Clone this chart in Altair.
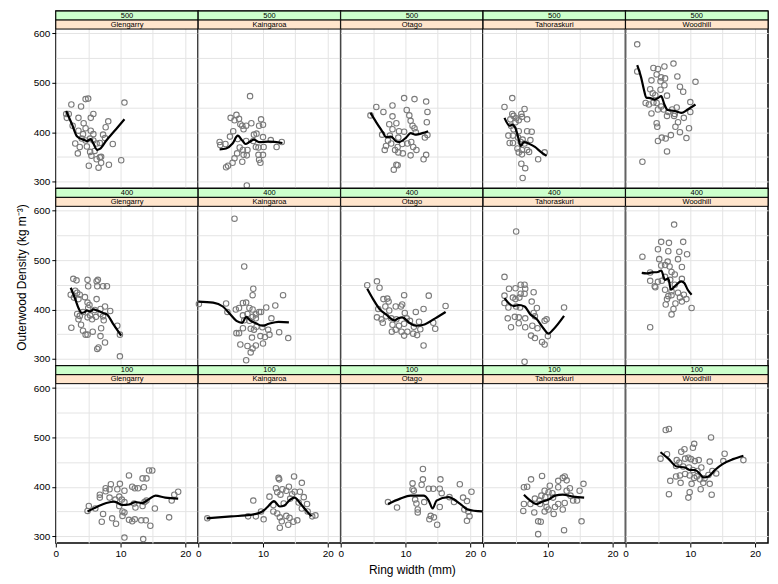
import altair as alt
import pandas as pd

STANDS = ["500", "400", "100"]
SITES = ["Glengarry", "Kaingaroa", "Otago", "Tahoraskuri", "Woodhill"]
X_GRID = [0, 5, 10, 15, 20]
Y_GRID = [300, 350, 400, 450, 500, 550, 600]
X_DOMAIN = [0, 22]
Y_DOMAIN = [286, 609]

# scatter points (ring width mm, density kg/m3) per panel
PTS_500_GLENGARRY = [(2.4,456),(1.6,437),(2.0,437),(1.7,429),(3.5,429),(2.6,413),(3.9,452),(4.3,418),(4.6,467),(5.0,468),(5.4,429),(5.8,437),(8.1,422),(10.6,460),(3.0,377),(3.4,357),(3.7,370),(4.2,396),(4.6,383),(4.8,371),(5.3,360),(5.4,403),(5.8,396),(6.0,362),(5.5,352),(5.1,332),(6.3,345),(6.6,328),(6.8,349),(7.0,338),(7.3,395),(7.6,388),(7.7,410),(8.2,334),(8.8,376),(10.1,343),(6.8,378),(6.3,377),(4.0,387),(5.3,387),(5.8,383),(7.0,350),(3.5,403),(4.6,408)]
PTS_500_KAINGAROA = [(8.0,473),(5.0,429),(5.6,424),(5.9,435),(6.3,427),(6.5,416),(6.8,413),(7.4,413),(7.0,406),(8.2,418),(9.4,413),(9.7,426),(10.0,415),(8.6,395),(9.0,397),(10.0,390),(5.4,402),(4.9,391),(3.3,380),(3.4,374),(4.2,376),(6.1,386),(7.4,382),(8.5,382),(11.2,384),(12.9,380),(12.1,370),(6.4,369),(6.9,364),(7.6,364),(8.9,370),(9.3,369),(10.1,370),(6.0,357),(7.0,354),(7.5,353),(9.3,354),(10.0,354),(5.6,347),(6.8,340),(5.3,338),(4.6,332),(4.3,329),(9.4,344),(9.6,338),(7.5,292)]
PTS_500_OTAGO = [(9.8,469),(11.4,467),(13.2,462),(5.5,451),(8.0,454),(6.6,441),(4.6,434),(10.2,445),(10.6,434),(13.4,441),(8.0,432),(10.8,423),(13.3,420),(8.6,418),(7.5,416),(11.1,413),(11.4,408),(9.0,402),(9.8,401),(8.0,406),(11.6,400),(6.4,395),(13.4,394),(13.0,389),(7.6,393),(8.9,389),(7.3,383),(7.8,377),(7.0,372),(6.8,364),(8.4,364),(8.8,370),(9.5,376),(10.3,377),(10.9,380),(11.2,370),(11.7,364),(8.9,359),(9.6,357),(10.8,353),(13.2,354),(12.8,345),(8.6,334),(8.8,333),(8.2,324)]
PTS_500_TAHORASKURI = [(4.5,469),(3.3,451),(6.4,447),(4.5,437),(4.7,433),(5.9,437),(6.0,431),(5.1,428),(5.5,424),(6.8,426),(4.2,426),(5.0,420),(4.3,413),(4.7,406),(5.5,402),(6.8,402),(7.5,401),(3.9,393),(4.6,393),(5.4,389),(6.1,385),(7.3,384),(4.1,378),(4.6,378),(5.8,380),(6.4,377),(5.3,367),(6.0,364),(6.8,364),(7.1,360),(5.5,359),(6.0,355),(8.5,345),(9.5,359),(5.9,336),(6.5,327),(6.1,307)]
PTS_500_WOODHILL = [(1.8,578),(1.8,523),(4.3,530),(5.0,528),(6.0,533),(7.4,539),(4.8,517),(5.5,511),(6.1,509),(8.0,513),(4.0,505),(5.4,503),(10.8,502),(6.0,495),(3.8,487),(5.4,486),(8.4,492),(8.9,482),(4.2,479),(4.6,475),(6.4,474),(3.1,459),(3.6,456),(4.3,460),(4.8,459),(5.5,452),(10.0,461),(7.9,450),(5.0,446),(5.9,446),(7.2,446),(4.0,438),(6.6,441),(7.6,437),(6.4,433),(7.5,433),(9.0,429),(10.0,441),(8.1,420),(4.8,418),(4.9,411),(7.7,411),(8.4,400),(9.8,408),(7.0,394),(9.4,388),(5.6,389),(6.2,387),(5.0,382),(6.4,361),(2.6,340)]
PTS_400_GLENGARRY = [(2.7,462),(3.2,459),(2.4,363),(2.3,430),(3.0,438),(3.3,434),(3.7,430),(2.8,424),(3.5,421),(4.5,425),(4.9,460),(5.0,447),(6.3,457),(6.5,460),(6.4,447),(7.3,447),(7.9,447),(6.3,421),(4.9,414),(5.2,409),(7.6,406),(8.4,397),(6.9,401),(6.0,399),(5.0,403),(3.3,391),(3.7,387),(3.5,380),(4.2,395),(4.9,384),(5.3,388),(5.6,380),(6.2,385),(7.3,386),(7.4,378),(6.9,391),(3.9,369),(4.2,357),(4.6,349),(4.9,349),(5.7,355),(7.0,362),(6.9,346),(7.6,333),(6.6,323),(6.4,320),(9.5,367),(9.9,349),(9.9,305)]
PTS_400_KAINGAROA = [(5.6,584),(7.1,487),(0.1,411),(4.3,412),(4.5,395),(5.8,400),(6.3,403),(6.9,413),(7.4,414),(8.5,442),(8.4,429),(13.1,429),(11.9,408),(10.5,404),(7.9,403),(8.4,400),(9.4,395),(9.7,395),(8.9,390),(7.6,391),(6.9,388),(8.4,385),(8.9,382),(7.9,377),(7.1,378),(6.9,362),(8.1,361),(8.6,359),(9.0,365),(9.9,364),(10.8,359),(11.0,349),(10.3,344),(9.6,346),(8.3,343),(12.5,354),(13.9,342),(5.9,352),(6.3,352),(6.5,329),(7.6,326),(8.9,327),(10.0,331),(8.4,321),(8.1,313),(7.4,297),(11.3,382)]
PTS_400_OTAGO = [(4.1,449),(5.6,457),(6.0,444),(6.6,421),(7.2,422),(7.4,416),(9.8,429),(13.6,428),(5.8,401),(6.9,406),(7.5,398),(8.5,406),(9.3,406),(9.5,410),(9.9,393),(11.6,395),(12.8,401),(16.2,407),(5.6,384),(6.3,380),(7.0,386),(7.8,382),(8.6,380),(10.2,382),(10.7,377),(12.1,375),(6.5,373),(8.0,369),(9.0,367),(9.8,371),(11.3,365),(7.9,355),(8.5,359),(9.4,355),(10.3,355),(11.2,351),(11.8,348),(9.8,347),(12.3,360),(14.3,373),(14.6,361),(12.8,327)]
PTS_400_TAHORASKURI = [(5.1,558),(3.3,466),(4.0,442),(5.0,443),(5.8,450),(6.4,450),(6.5,442),(6.4,432),(5.8,432),(7.8,435),(3.3,428),(4.6,424),(5.0,421),(5.6,424),(7.5,416),(3.3,413),(3.9,404),(5.1,406),(5.7,404),(8.3,403),(7.8,393),(8.0,386),(3.8,382),(4.9,385),(5.5,384),(6.5,382),(4.3,364),(5.5,372),(6.5,364),(7.6,367),(8.4,362),(9.5,377),(9.8,380),(7.4,347),(8.0,342),(9.1,334),(9.5,329),(10.0,346),(12.5,404),(6.4,294)]
PTS_400_WOODHILL = [(7.5,572),(5.5,537),(6.7,535),(8.9,537),(5.0,522),(6.6,518),(8.3,517),(9.5,512),(2.6,507),(5.2,502),(6.5,497),(8.1,502),(5.5,489),(6.1,490),(6.8,487),(8.7,486),(3.8,475),(7.1,476),(7.6,471),(6.1,466),(5.6,458),(3.8,458),(5.0,456),(6.9,460),(8.7,462),(4.5,447),(4.6,445),(6.1,440),(7.6,450),(7.1,437),(8.1,434),(9.0,430),(6.6,427),(7.1,429),(8.4,424),(9.4,421),(6.4,421),(8.7,416),(6.2,410),(7.7,412),(10.2,403),(7.4,401),(7.1,390),(3.8,364)]
PTS_100_GLENGARRY = [(4.9,351),(6.8,384),(7.7,391),(8.5,405),(9.9,406),(11.3,423),(13.4,417),(14.0,417),(14.4,433),(14.9,433),(7.7,397),(8.3,395),(9.5,395),(10.6,392),(11.8,400),(12.2,397),(12.7,397),(13.6,399),(18.9,390),(18.3,384),(6.8,378),(8.3,378),(9.8,380),(10.2,374),(9.2,374),(9.8,361),(10.6,369),(12.1,366),(12.3,358),(13.4,361),(13.7,369),(14.0,372),(15.3,356),(17.9,372),(5.1,361),(6.1,356),(7.3,345),(8.7,336),(10.3,350),(10.3,341),(10.6,348),(11.3,333),(11.8,330),(12.2,334),(13.2,332),(13.9,332),(14.6,321),(17.5,338),(7.1,329),(9.3,325),(10.6,297),(13.5,294)]
PTS_100_KAINGAROA = [(1.4,336),(8.5,372),(7.7,340),(8.9,340),(9.7,350),(10.1,334),(11.0,380),(11.6,363),(12.0,397),(12.5,415),(12.4,418),(12.2,389),(12.7,384),(13.0,395),(13.6,392),(14.0,400),(14.5,385),(14.9,390),(14.8,421),(15.7,390),(16.0,408),(16.3,379),(16.8,365),(16.9,350),(17.6,340),(18.1,342),(12.2,346),(12.6,338),(12.9,330),(12.6,317),(13.6,341),(14.1,337),(14.7,329),(15.3,332),(13.9,323),(11.6,350),(13.2,366),(14.2,376),(15.5,368),(16.0,356)]
PTS_100_OTAGO = [(7.3,369),(8.7,358),(11.1,407),(11.1,395),(11.3,392),(11.5,374),(11.7,366),(11.9,354),(11.9,348),(12.7,436),(12.7,415),(12.5,404),(12.9,369),(13.6,396),(14.3,396),(13.9,341),(14.4,338),(14.9,323),(15.4,415),(15.3,396),(15.6,387),(15.3,359),(16.8,379),(17.5,369),(18.4,405),(18.9,378),(19.1,354),(19.5,371),(20.2,390),(19.7,350),(19.9,340),(19.5,331),(13.7,334)]
PTS_100_TAHORASKURI = [(6.3,399),(6.8,400),(7.4,415),(9.1,422),(6.3,365),(6.2,351),(7.9,348),(8.8,365),(8.7,372),(9.0,382),(9.5,392),(8.5,304),(8.5,330),(8.9,329),(9.6,379),(9.7,369),(9.8,359),(10.1,354),(9.5,350),(10.7,387),(10.8,378),(11.1,359),(10.9,345),(11.6,412),(11.6,399),(11.6,365),(12.3,418),(12.6,421),(12.9,413),(12.9,392),(13.4,397),(13.5,382),(13.9,372),(14.5,372),(14.9,392),(15.5,406),(12.3,354),(12.6,367),(12.5,312),(15.2,330),(10.3,402),(10.1,389),(8.0,376),(7.3,365)]
PTS_100_WOODHILL = [(6.2,515),(6.7,517),(13.2,500),(5.4,457),(6.4,466),(8.6,471),(9.1,476),(10.6,487),(10.4,479),(15.3,467),(7.9,454),(8.3,449),(9.2,457),(9.7,459),(10.1,456),(10.7,452),(11.3,454),(13.0,451),(15.1,452),(18.2,454),(7.8,442),(8.9,441),(9.8,439),(10.4,434),(11.1,432),(11.7,439),(13.4,432),(14.0,427),(7.8,421),(8.4,423),(9.2,426),(9.9,423),(10.6,418),(11.0,421),(11.5,415),(12.2,417),(12.8,424),(6.9,412),(8.5,408),(10.2,406),(12.0,408),(13.0,406),(11.6,395),(6.7,385),(9.9,389),(9.7,378),(13.3,384)]

# smoothed (loess) curve vertices per panel
FIT_500_GLENGARRY = [(1.6,443),(2.5,416),(3.3,391),(4.2,385),(4.8,382),(5.4,386),(5.8,377),(6.4,364),(6.8,366),(7.8,383),(9.3,406),(10.6,426)]
FIT_500_KAINGAROA = [(3.3,365),(4.3,367),(5.3,377),(6.1,393),(6.8,383),(7.3,376),(7.9,380),(8.6,385),(9.4,380),(10.9,381),(13.0,378)]
FIT_500_OTAGO = [(4.6,439),(5.5,420),(6.5,400),(7.0,390),(7.8,391),(8.5,382),(9.0,380),(10.1,389),(10.8,398),(11.6,395),(12.6,398),(13.5,402)]
FIT_500_TAHORASKURI = [(3.3,429),(4.1,413),(4.5,415),(5.0,408),(5.4,390),(5.8,372),(6.3,380),(7.0,377),(8.0,370),(9.0,359),(9.8,352)]
FIT_500_WOODHILL = [(1.8,536),(2.4,511),(2.8,488),(3.2,470),(3.8,469),(4.5,466),(5.0,469),(5.5,473),(6.0,456),(6.5,445),(7.6,443),(8.6,439),(9.6,446),(10.8,456)]
FIT_400_GLENGARRY = [(2.3,444),(3.0,421),(3.5,403),(4.0,393),(4.5,395),(4.8,398),(5.3,396),(5.8,400),(6.4,398),(7.3,393),(7.9,390),(8.8,372),(10.1,347)]
FIT_400_KAINGAROA = [(0.0,416),(2.3,414),(3.8,406),(4.9,391),(5.9,377),(6.8,373),(7.4,385),(8.0,378),(8.9,372),(9.9,367),(10.9,371),(12.4,375),(14.0,374)]
FIT_400_OTAGO = [(4.1,442),(5.0,421),(6.0,401),(7.0,390),(8.3,378),(8.9,382),(9.5,384),(10.6,373),(11.6,367),(12.8,369),(14.6,382),(16.2,395)]
FIT_400_TAHORASKURI = [(3.3,423),(4.0,412),(4.7,407),(5.5,409),(6.4,406),(7.3,390),(8.3,380),(9.3,362),(10.1,351),(10.8,359),(12.5,387)]
FIT_400_WOODHILL = [(2.5,474),(3.2,473),(4.1,475),(5.0,476),(5.5,479),(6.1,460),(6.6,463),(7.0,440),(7.6,447),(8.6,457),(9.1,453),(9.6,440),(10.2,430)]
FIT_100_GLENGARRY = [(4.9,350),(6.3,359),(7.8,367),(9.0,370),(10.3,363),(11.3,364),(12.3,369),(13.3,367),(14.3,374),(15.4,382),(16.9,378),(18.9,376)]
FIT_100_KAINGAROA = [(1.3,336),(5.1,340),(8.1,343),(9.9,350),(10.7,359),(11.7,371),(12.6,360),(13.3,362),(14.2,374),(14.9,378),(15.7,367),(16.8,350),(17.5,340)]
FIT_100_OTAGO = [(7.3,365),(9.2,376),(10.8,382),(12.8,382),(13.6,372),(14.2,356),(14.8,372),(16.6,379),(18.4,366),(19.6,354),(21.9,350)]
FIT_100_TAHORASKURI = [(6.3,384),(7.3,372),(8.3,365),(9.0,369),(10.1,374),(11.1,382),(12.3,384),(13.9,380),(15.6,378)]
FIT_100_WOODHILL = [(5.4,470),(6.6,457),(7.9,441),(9.2,439),(9.9,434),(10.7,434),(11.5,426),(12.0,419),(12.8,421),(13.8,434),(15.1,447),(16.6,456),(18.2,463)]

POINTS = {
    ("500", "Glengarry"): PTS_500_GLENGARRY, ("500", "Kaingaroa"): PTS_500_KAINGAROA,
    ("500", "Otago"): PTS_500_OTAGO, ("500", "Tahoraskuri"): PTS_500_TAHORASKURI,
    ("500", "Woodhill"): PTS_500_WOODHILL,
    ("400", "Glengarry"): PTS_400_GLENGARRY, ("400", "Kaingaroa"): PTS_400_KAINGAROA,
    ("400", "Otago"): PTS_400_OTAGO, ("400", "Tahoraskuri"): PTS_400_TAHORASKURI,
    ("400", "Woodhill"): PTS_400_WOODHILL,
    ("100", "Glengarry"): PTS_100_GLENGARRY, ("100", "Kaingaroa"): PTS_100_KAINGAROA,
    ("100", "Otago"): PTS_100_OTAGO, ("100", "Tahoraskuri"): PTS_100_TAHORASKURI,
    ("100", "Woodhill"): PTS_100_WOODHILL,
}
FITS = {
    ("500", "Glengarry"): FIT_500_GLENGARRY, ("500", "Kaingaroa"): FIT_500_KAINGAROA,
    ("500", "Otago"): FIT_500_OTAGO, ("500", "Tahoraskuri"): FIT_500_TAHORASKURI,
    ("500", "Woodhill"): FIT_500_WOODHILL,
    ("400", "Glengarry"): FIT_400_GLENGARRY, ("400", "Kaingaroa"): FIT_400_KAINGAROA,
    ("400", "Otago"): FIT_400_OTAGO, ("400", "Tahoraskuri"): FIT_400_TAHORASKURI,
    ("400", "Woodhill"): FIT_400_WOODHILL,
    ("100", "Glengarry"): FIT_100_GLENGARRY, ("100", "Kaingaroa"): FIT_100_KAINGAROA,
    ("100", "Otago"): FIT_100_OTAGO, ("100", "Tahoraskuri"): FIT_100_TAHORASKURI,
    ("100", "Woodhill"): FIT_100_WOODHILL,
}

FONT = "Liberation Sans"
GREEN = "#ccffcc"
PEACH = "#ffe5cc"
GRID = "#e4e4e4"
PT_COLOR = "#7a7a7a"
W, H, S = 143, 178, 18
PH = H - S
Y_TOP = Y_DOMAIN[1] + S * (Y_DOMAIN[1] - Y_DOMAIN[0]) / PH


def x_axis(r, c):
    kw = dict(values=X_GRID, grid=True, gridColor=GRID, gridWidth=1, domain=False)
    if r == 2:
        kw.update(labels=True, ticks=True, tickColor="black", tickSize=4, tickWidth=1,
                  tickOpacity={"condition": {"test": "datum.value % 10 === 0", "value": 1}, "value": 0},
                  labelExpr="datum.value % 10 === 0 ? datum.label : ''",
                  labelFont=FONT, labelFontSize=10, labelColor="black", labelPadding=2,
                  labelFlush=False, labelOverlap=False,
                  title="Ring width (mm)" if c == 2 else None,
                  titleFont=FONT, titleFontSize=12, titleFontWeight="normal",
                  titleColor="black", titlePadding=6)
    else:
        kw.update(labels=False, ticks=False, title=None)
    return alt.Axis(**kw)


def y_axis(r, c):
    kw = dict(values=Y_GRID, grid=True, gridColor=GRID, gridWidth=1, domain=False)
    if c == 0:
        kw.update(labels=True, ticks=True, tickColor="black", tickSize=4, tickWidth=1,
                  tickOpacity={"condition": {"test": "datum.value % 100 === 0", "value": 1}, "value": 0},
                  labelExpr="datum.value % 100 === 0 ? datum.label : ''",
                  labelFont=FONT, labelFontSize=10, labelColor="black", labelPadding=2,
                  labelOverlap=False,
                  title="Outerwood Density (kg m⁻³)" if r == 1 else None,
                  titleFont=FONT, titleFontSize=12, titleFontWeight="normal",
                  titleColor="black", titlePadding=5)
    else:
        kw.update(labels=False, ticks=False, title=None)
    return alt.Axis(**kw)


def panel(r, c):
    stand, site = STANDS[r], SITES[c]
    pts = pd.DataFrame(POINTS[(stand, site)], columns=["x", "y"])
    fit = pd.DataFrame(FITS[(stand, site)], columns=["x", "y"])
    xs = alt.X("x:Q", scale=alt.Scale(domain=X_DOMAIN, nice=False, zero=False), axis=x_axis(r, c))
    ys = alt.Y("y:Q", scale=alt.Scale(domain=[Y_DOMAIN[0], Y_TOP], nice=False, zero=False), axis=y_axis(r, c))
    points = alt.Chart(pts).mark_point(shape="circle", filled=False, color=PT_COLOR,
                                       size=30, strokeWidth=1.1, opacity=1).encode(x=xs, y=ys)
    line = alt.Chart(fit).mark_line(color="black", strokeWidth=2.2,
                                    interpolate="monotone").encode(x=xs, y=ys)
    one = pd.DataFrame({"k": [0]})
    g = alt.Chart(one).mark_rect(fill=GREEN, stroke="black", strokeWidth=1).encode(
        x=alt.value(0), x2=alt.value(W), y=alt.value(0), y2=alt.value(9))
    p = alt.Chart(one).mark_rect(fill=PEACH, stroke="black", strokeWidth=1).encode(
        x=alt.value(0), x2=alt.value(W), y=alt.value(9), y2=alt.value(S))
    t1 = alt.Chart(one).mark_text(text=stand, font=FONT, fontSize=7.5, color="black",
                                  baseline="middle", align="center").encode(
        x=alt.value(W / 2), y=alt.value(4.8))
    t2 = alt.Chart(one).mark_text(text=site, font=FONT, fontSize=7.5, color="black",
                                  baseline="middle", align="center").encode(
        x=alt.value(W / 2), y=alt.value(13.8))
    return alt.layer(points, line, g, p, t1, t2).properties(width=W, height=H)


panels = [panel(r, c) for r in range(3) for c in range(5)]
chart = alt.concat(*panels, columns=5, spacing=0, bounds="flush").properties(
    padding={"left": 6, "top": 0, "right": 0, "bottom": 0},
    background="white",
).configure_view(stroke="black", strokeWidth=1.5)

chart.save("out.html", embed_options={"renderer": "svg", "actions": False})
